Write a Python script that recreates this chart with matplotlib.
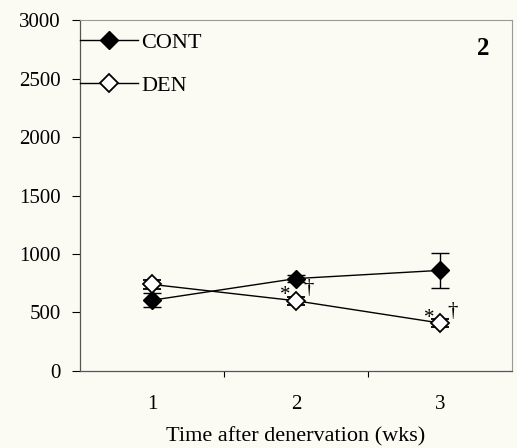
import matplotlib
matplotlib.use('Agg')
import matplotlib.pyplot as plt
from matplotlib.lines import Line2D

# data
weeks = ['1', '2', '3']
cont_mean = [605, 790, 860]
cont_err = [60, 30, 150]
den_mean = [740, 600, 410]
den_err = [40, 35, 35]
den_star = [False, True, True]

plt.rcParams['font.family'] = ['Liberation Serif', 'DejaVu Serif']
bg = '#fbfbf4'

fig = plt.figure(figsize=(5.17, 4.48), dpi=100, facecolor=bg)
ax = fig.add_axes([0.155, 0.172, 0.835, 0.783], facecolor=bg)

x = [1, 2, 3]
ax.errorbar(x, cont_mean, yerr=cont_err, color='black', lw=1.0, marker='D',
            ms=9, mfc='black', mec='black', capsize=6.5, elinewidth=1.0,
            zorder=3)
ax.errorbar(x, den_mean, yerr=den_err, color='black', lw=1.0, marker='D',
            ms=9, mfc='white', mec='black', mew=1.3, capsize=6.5,
            elinewidth=1.0, zorder=4)

# significance marks (* and dagger) beside the DEN points
for xi, yi, s in zip(x, den_mean, den_star):
    if s:
        ax.text(xi - 0.075, yi - 40, '*', ha='center', va='bottom', fontsize=15)
        ax.text(xi + 0.085, yi + 20, '\u2020', ha='center', va='bottom', fontsize=15)

ax.set_xlim(0.5, 3.5)
ax.set_ylim(0, 3000)
ax.set_yticks([0, 500, 1000, 1500, 2000, 2500, 3000])
ax.set_xticks([1.5, 2.5])
ax.set_xticklabels([])
ax.set_xticks(x, minor=True)
ax.set_xticklabels(weeks, minor=True)
ax.tick_params(axis='x', which='minor', length=0, pad=17, labelsize=15)
ax.tick_params(axis='x', which='major', direction='out', length=4)
ax.tick_params(axis='y', direction='out', length=6, labelsize=15, pad=8)
ax.set_xlabel('Time after denervation (wks)', fontsize=16, labelpad=10)

for s in ['top', 'right']:
    ax.spines[s].set_color('#999999')
    ax.spines[s].set_linewidth(0.8)
for s in ['left', 'bottom']:
    ax.spines[s].set_color('#555555')
    ax.spines[s].set_linewidth(0.9)

ax.text(0.948, 0.92, '2', transform=ax.transAxes, ha='right', va='center',
        fontsize=18, fontweight='bold')

handles = [
    Line2D([], [], color='black', lw=1.0, marker='D', ms=9, mfc='black', mec='black'),
    Line2D([], [], color='black', lw=1.0, marker='D', ms=9, mfc='white', mec='black', mew=1.3),
]
ax.legend(handles, ['CONT', 'DEN'], loc='upper left', frameon=False, fontsize=16,
          handlelength=2.6, handletextpad=0.15, borderaxespad=0.0,
          labelspacing=1.0, borderpad=0.0, bbox_to_anchor=(0.0, 0.965))

plt.savefig('out.png', dpi=100, facecolor=bg)
